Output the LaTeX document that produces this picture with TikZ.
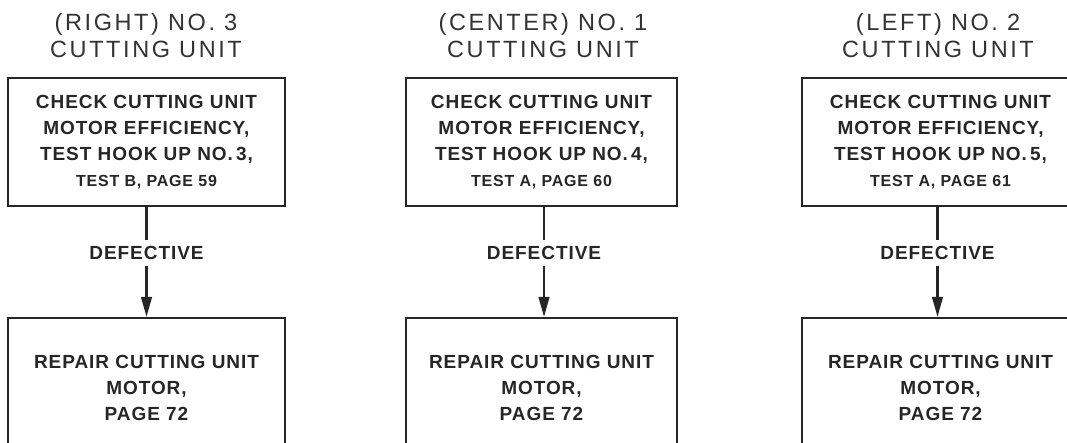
\documentclass[tikz,border=0pt]{standalone}
\usepackage{fontspec}
\usepackage{tikz}
\usetikzlibrary{arrows.meta}
\newfontfamily\hdrfont[LetterSpace=11]{Liberation Sans}
\newfontfamily\boxfont[LetterSpace=5]{Liberation Sans}
\newcommand{\smallline}[1]{{\fontsize{16}{26}\selectfont #1}}
\tikzset{
  hdr/.style={align=center,text=black!80,font=\hdrfont\fontsize{23.5}{27}\selectfont},
  box/.style={draw=black!85,line width=2pt,minimum width=277pt,minimum height=128pt,
    align=center,text=black!85,font=\boxfont\bfseries\fontsize{19}{26}\selectfont},
  lbl/.style={text=black!85,font=\boxfont\bfseries\fontsize{19}{26}\selectfont,
    inner xsep=5pt,inner ysep=6pt},
  link/.style={draw=black!85,line width=2.6pt},
  arr/.style={link,-{Triangle[length=20pt,width=10.5pt]}}
}
\begin{document}
\begin{tikzpicture}[x=1pt,y=-1pt]
\clip (0,0) rectangle (1067,443);
\useasboundingbox (0,0) rectangle (1067,443);
% headings
\node[hdr] (h3) at (146,36) {(RIGHT) NO. 3\\CUTTING UNIT};
\node[hdr] (h1) at (543,36) {(CENTER) NO. 1\\CUTTING UNIT};
\node[hdr] (h2) at (938,36) {(LEFT) NO. 2\\CUTTING UNIT};
% check boxes
\node[box] (chk3) at (146.5,142) {CHECK CUTTING UNIT\\MOTOR EFFICIENCY,\\TEST HOOK UP NO.\,3,\\\smallline{TEST B, PAGE 59}};
\node[box,minimum width=271pt] (chk1) at (541.5,142) {CHECK CUTTING UNIT\\MOTOR EFFICIENCY,\\TEST HOOK UP NO.\,4,\\\smallline{TEST A, PAGE 60}};
\node[box] (chk2) at (940.5,142) {CHECK CUTTING UNIT\\MOTOR EFFICIENCY,\\TEST HOOK UP NO.\,5,\\\smallline{TEST A, PAGE 61}};
% labels
\node[lbl] (def3) at (146.5,253) {DEFECTIVE};
\node[lbl] (def1) at (544,253) {DEFECTIVE};
\node[lbl] (def2) at (937.5,253) {DEFECTIVE};
% repair boxes
\node[box,minimum height=140pt] (rep3) at (146.5,388) {REPAIR CUTTING UNIT\\MOTOR,\\PAGE 72};
\node[box,minimum height=140pt,minimum width=271pt] (rep1) at (541.5,388) {REPAIR CUTTING UNIT\\MOTOR,\\PAGE 72};
\node[box,minimum height=140pt] (rep2) at (940.5,388) {REPAIR CUTTING UNIT\\MOTOR,\\PAGE 72};
% connectors
\draw[link] (chk3.south -| def3) -- (def3);
\draw[arr] (def3) -- (rep3.north -| def3);
\draw[link] (chk1.south -| def1) -- (def1);
\draw[arr] (def1) -- (rep1.north -| def1);
\draw[link] (chk2.south -| def2) -- (def2);
\draw[arr] (def2) -- (rep2.north -| def2);
\end{tikzpicture}
\end{document}
